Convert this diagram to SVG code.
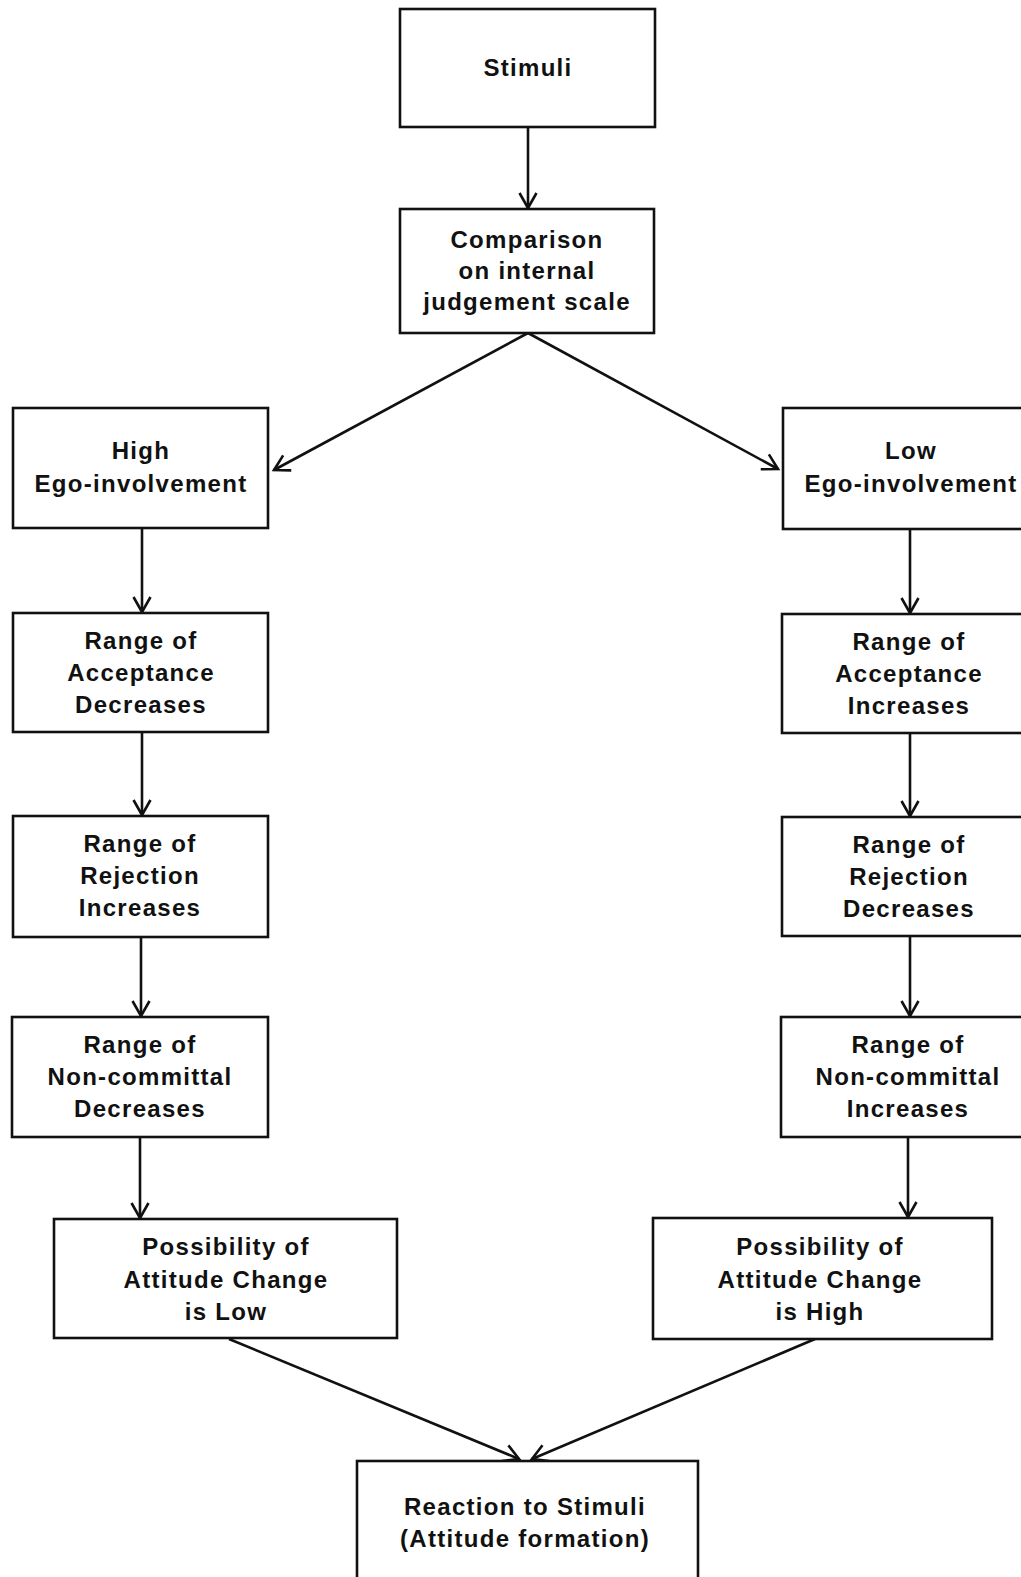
<svg xmlns="http://www.w3.org/2000/svg" width="1021" height="1577" viewBox="0 0 1021 1577">
<style>
.box{fill:#fff;stroke:#111;stroke-width:2.6}
.t{font-family:"Liberation Sans",Arial,sans-serif;font-size:24px;font-weight:bold;fill:#111;text-anchor:middle;letter-spacing:1.3px}
.c{fill:none;stroke:#111;stroke-width:2.6}
</style>
<defs>
<marker id="ah" markerUnits="userSpaceOnUse" markerWidth="30" markerHeight="30" viewBox="-20 -15 30 30" refX="0" refY="0" orient="auto">
<path d="M-15,-8.5 L0,0 L-15,8.5" fill="none" stroke="#111" stroke-width="2.6"/>
</marker>
</defs>
<rect width="1021" height="1577" fill="#fff"/>
<g id="connectors">
<line class="c" x1="528" y1="127" x2="528" y2="208" marker-end="url(#ah)"/>
<line class="c" x1="528" y1="333" x2="274" y2="470" marker-end="url(#ah)"/>
<line class="c" x1="528" y1="333" x2="778" y2="469" marker-end="url(#ah)"/>
<line class="c" x1="142" y1="528" x2="142" y2="612" marker-end="url(#ah)"/>
<line class="c" x1="142" y1="732" x2="142" y2="815" marker-end="url(#ah)"/>
<line class="c" x1="141" y1="937" x2="141" y2="1016" marker-end="url(#ah)"/>
<line class="c" x1="140" y1="1137" x2="140" y2="1218" marker-end="url(#ah)"/>
<line class="c" x1="910" y1="529" x2="910" y2="613" marker-end="url(#ah)"/>
<line class="c" x1="910" y1="733" x2="910" y2="816" marker-end="url(#ah)"/>
<line class="c" x1="910" y1="936" x2="910" y2="1016" marker-end="url(#ah)"/>
<line class="c" x1="908" y1="1137" x2="908" y2="1217" marker-end="url(#ah)"/>
<line class="c" x1="229" y1="1339" x2="519" y2="1459" marker-end="url(#ah)"/>
<line class="c" x1="815" y1="1339" x2="532" y2="1459" marker-end="url(#ah)"/>
</g>
<g id="stimuli">
<rect class="box" x="400" y="9" width="255" height="118"/>
<text class="t" x="528" y="76">Stimuli</text>
</g>
<g id="comparison">
<rect class="box" x="400" y="209" width="254" height="124"/>
<text class="t" x="527" y="248">Comparison</text>
<text class="t" x="527" y="279">on internal</text>
<text class="t" x="527" y="310">judgement scale</text>
</g>
<g id="high">
<rect class="box" x="13" y="408" width="255" height="120"/>
<text class="t" x="141" y="459">High</text>
<text class="t" x="141" y="492">Ego-involvement</text>
</g>
<g id="low">
<rect class="box" x="783" y="408" width="256" height="121"/>
<text class="t" x="911" y="459">Low</text>
<text class="t" x="911" y="492">Ego-involvement</text>
</g>
<g id="acc-dec">
<rect class="box" x="13" y="613" width="255" height="119"/>
<text class="t" x="141" y="649">Range of</text>
<text class="t" x="141" y="681">Acceptance</text>
<text class="t" x="141" y="713">Decreases</text>
</g>
<g id="acc-inc">
<rect class="box" x="782" y="614" width="256" height="119"/>
<text class="t" x="909" y="650">Range of</text>
<text class="t" x="909" y="682">Acceptance</text>
<text class="t" x="909" y="714">Increases</text>
</g>
<g id="rej-inc">
<rect class="box" x="13" y="816" width="255" height="121"/>
<text class="t" x="140" y="852">Range of</text>
<text class="t" x="140" y="884">Rejection</text>
<text class="t" x="140" y="916">Increases</text>
</g>
<g id="rej-dec">
<rect class="box" x="782" y="817" width="256" height="119"/>
<text class="t" x="909" y="853">Range of</text>
<text class="t" x="909" y="885">Rejection</text>
<text class="t" x="909" y="917">Decreases</text>
</g>
<g id="non-dec">
<rect class="box" x="12" y="1017" width="256" height="120"/>
<text class="t" x="140" y="1053">Range of</text>
<text class="t" x="140" y="1085">Non-committal</text>
<text class="t" x="140" y="1117">Decreases</text>
</g>
<g id="non-inc">
<rect class="box" x="781" y="1017" width="257" height="120"/>
<text class="t" x="908" y="1053">Range of</text>
<text class="t" x="908" y="1085">Non-committal</text>
<text class="t" x="908" y="1117">Increases</text>
</g>
<g id="poss-low">
<rect class="box" x="54" y="1219" width="343" height="119"/>
<text class="t" x="226" y="1255">Possibility of</text>
<text class="t" x="226" y="1288">Attitude Change</text>
<text class="t" x="226" y="1320">is Low</text>
</g>
<g id="poss-high">
<rect class="box" x="653" y="1218" width="339" height="121"/>
<text class="t" x="820" y="1255">Possibility of</text>
<text class="t" x="820" y="1288">Attitude Change</text>
<text class="t" x="820" y="1320">is High</text>
</g>
<g id="reaction">
<rect class="box" x="357" y="1461" width="341" height="140"/>
<text class="t" x="525" y="1515">Reaction to Stimuli</text>
<text class="t" x="525" y="1547">(Attitude formation)</text>
</g>
</svg>
